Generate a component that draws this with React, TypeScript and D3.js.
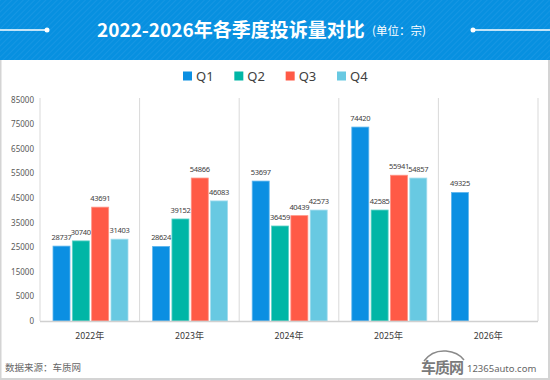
import React from "react";
import * as d3 from "d3";

const years = ["2022年", "2023年", "2024年", "2025年", "2026年"];
const seriesNames = ["Q1", "Q2", "Q3", "Q4"];
const q1 = [28737, 28624, 53697, 74420, 49325];
const q2 = [30740, 39152, 36459, 42585, null];
const q3 = [43691, 54866, 40439, 55941, null];
const q4 = [31403, 46083, 42573, 54857, null];
const yTickLabels = ["0", "5000", "15000", "25000", "35000", "45000", "55000", "65000", "75000", "85000"];
const yMax = 85000;
const colors = ["#0b8fe2", "#00b6a6", "#ff5a46", "#68c9e2"];
const strokes = ["#5fb6ee", "#5fd2c7", "#ff9486", "#a3ddee"];

const W = 550;
const H = 380;
const FONT = "'Noto Sans', 'Noto Sans CJK SC', sans-serif";
const CJK = "'Noto Sans CJK SC', 'Noto Sans', sans-serif";

export default function App() {
  const allSeries = [q1, q2, q3, q4];
  const plotLeft = 40, plotRight = 538, plotTop = 98, baseY = 321;
  const x = d3.scaleBand<string>().domain(years).range([plotLeft, plotRight]).paddingInner(0).paddingOuter(0);
  const xi = d3.scaleBand<string>().domain(seriesNames).range([13, 88]).paddingInner(0.12).paddingOuter(0);
  const y = d3.scaleLinear().domain([0, yMax]).range([baseY, 99.5]);
  const yt = d3.scalePoint<string>().domain(yTickLabels).range([baseY, 99.5]);
  const legendX = d3.scalePoint<string>().domain(seriesNames).range([183, 337]);

  const bars: any[] = [];
  allSeries.forEach((vals, si) => {
    vals.forEach((v, ci) => {
      if (v == null) return;
      bars.push({ si, ci, v, x0: (x(years[ci]) as number) + (xi(seriesNames[si]) as number) });
    });
  });
  const bw = xi.bandwidth();

  return (
    <svg width={W} height={H} style={{ position: "absolute", left: 0, top: 0, display: "block" }}>
      <defs>
        <pattern id="stripes" width="4" height="4" patternUnits="userSpaceOnUse" patternTransform="rotate(45)">
          <rect width="4" height="4" fill="#0790e0" />
          <line x1="0" y1="0" x2="0" y2="4" stroke="#1a98e4" strokeWidth="1.5" />
        </pattern>
      </defs>
      <rect x={0} y={0} width={W} height={H} fill="#ffffff" />
      <rect x={0.5} y={0.5} width={W - 1.5} height={H - 1.5} fill="none" stroke="#d4d4d4" strokeWidth={2} />
      <rect x={0} y={0} width={W} height={60} fill="url(#stripes)" />
      {/* header decorations */}
      <line x1={0} y1={30} x2={47} y2={30} stroke="#ffffff" strokeWidth={1.5} />
      <circle cx={47} cy={30} r={2.5} fill="#ffffff" />
      <line x1={473} y1={30} x2={550} y2={30} stroke="#ffffff" strokeWidth={1.5} />
      <circle cx={473} cy={30} r={2.5} fill="#ffffff" />
      <text x={97} y={37} fill="#ffffff" fontFamily={CJK} fontSize={19} fontWeight="bold">2022-2026年各季度投诉量对比</text>
      <text x={372} y={35} fill="#ffffff" fontFamily={CJK} fontSize={11.5}>(单位：宗)</text>

      {/* legend */}
      {seriesNames.map((s, i) => (
        <g key={s}>
          <rect x={legendX(s) as number} y={71.5} width={9} height={9} fill={colors[i]} />
          <text x={(legendX(s) as number) + 13} y={81} fontFamily={FONT} fontSize={13} fill="#404040">{s}</text>
        </g>
      ))}

      {/* vertical separators */}
      {years.map((yr) => (
        <line key={yr} x1={(x(yr) as number)} x2={(x(yr) as number)} y1={plotTop} y2={baseY} stroke="#d9d9d9" strokeWidth={1} />
      ))}
      <line x1={plotRight} x2={plotRight} y1={plotTop} y2={baseY} stroke="#d9d9d9" strokeWidth={1} />

      {/* y tick labels */}
      {yTickLabels.map((t) => (
        <text key={t} x={34} y={(yt(t) as number) + 3} textAnchor="end" fontFamily={FONT} fontSize={8} fill="#595959">{t}</text>
      ))}

      {/* data labels (behind bars) */}
      {bars.map((b) => (
        <text key={"l" + b.si + "-" + b.ci} x={b.x0 + bw / 2} y={y(b.v) - 6} textAnchor="middle" fontFamily={FONT} fontSize={7.5} letterSpacing={-0.3} fill="#404040">{b.v}</text>
      ))}

      {/* bars */}
      {bars.map((b) => (
        <rect key={"b" + b.si + "-" + b.ci} x={b.x0} y={y(b.v)} width={bw} height={baseY - y(b.v)} fill={colors[b.si]} stroke={strokes[b.si]} strokeWidth={0.8} />
      ))}

      {/* baseline */}
      <line x1={plotLeft} x2={plotRight} y1={baseY + 0.5} y2={baseY + 0.5} stroke="#d0d0d0" strokeWidth={1.5} />

      {/* x labels */}
      {years.map((yr) => (
        <text key={yr} x={(x(yr) as number) + x.bandwidth() / 2} y={339} textAnchor="middle" fontFamily={CJK} fontSize={9} fill="#404040">{yr}</text>
      ))}

      {/* footer */}
      <text x={5} y={371} fontFamily={CJK} fontSize={9.5} fill="#666666">数据来源：车质网</text>
      <path d="M424,361 Q432,350 446,351 Q458,352 464,360" fill="none" stroke="#8a8a8a" strokeWidth={1.5} />
      <text x={421} y={373} fontFamily={CJK} fontSize={15} fontWeight="bold" fill="#7a7a7a" letterSpacing={-1}>车质网</text>
      <text x={467} y={372} fontFamily={FONT} fontSize={9.5} fill="#666666">12365auto.com</text>
    </svg>
  );
}
